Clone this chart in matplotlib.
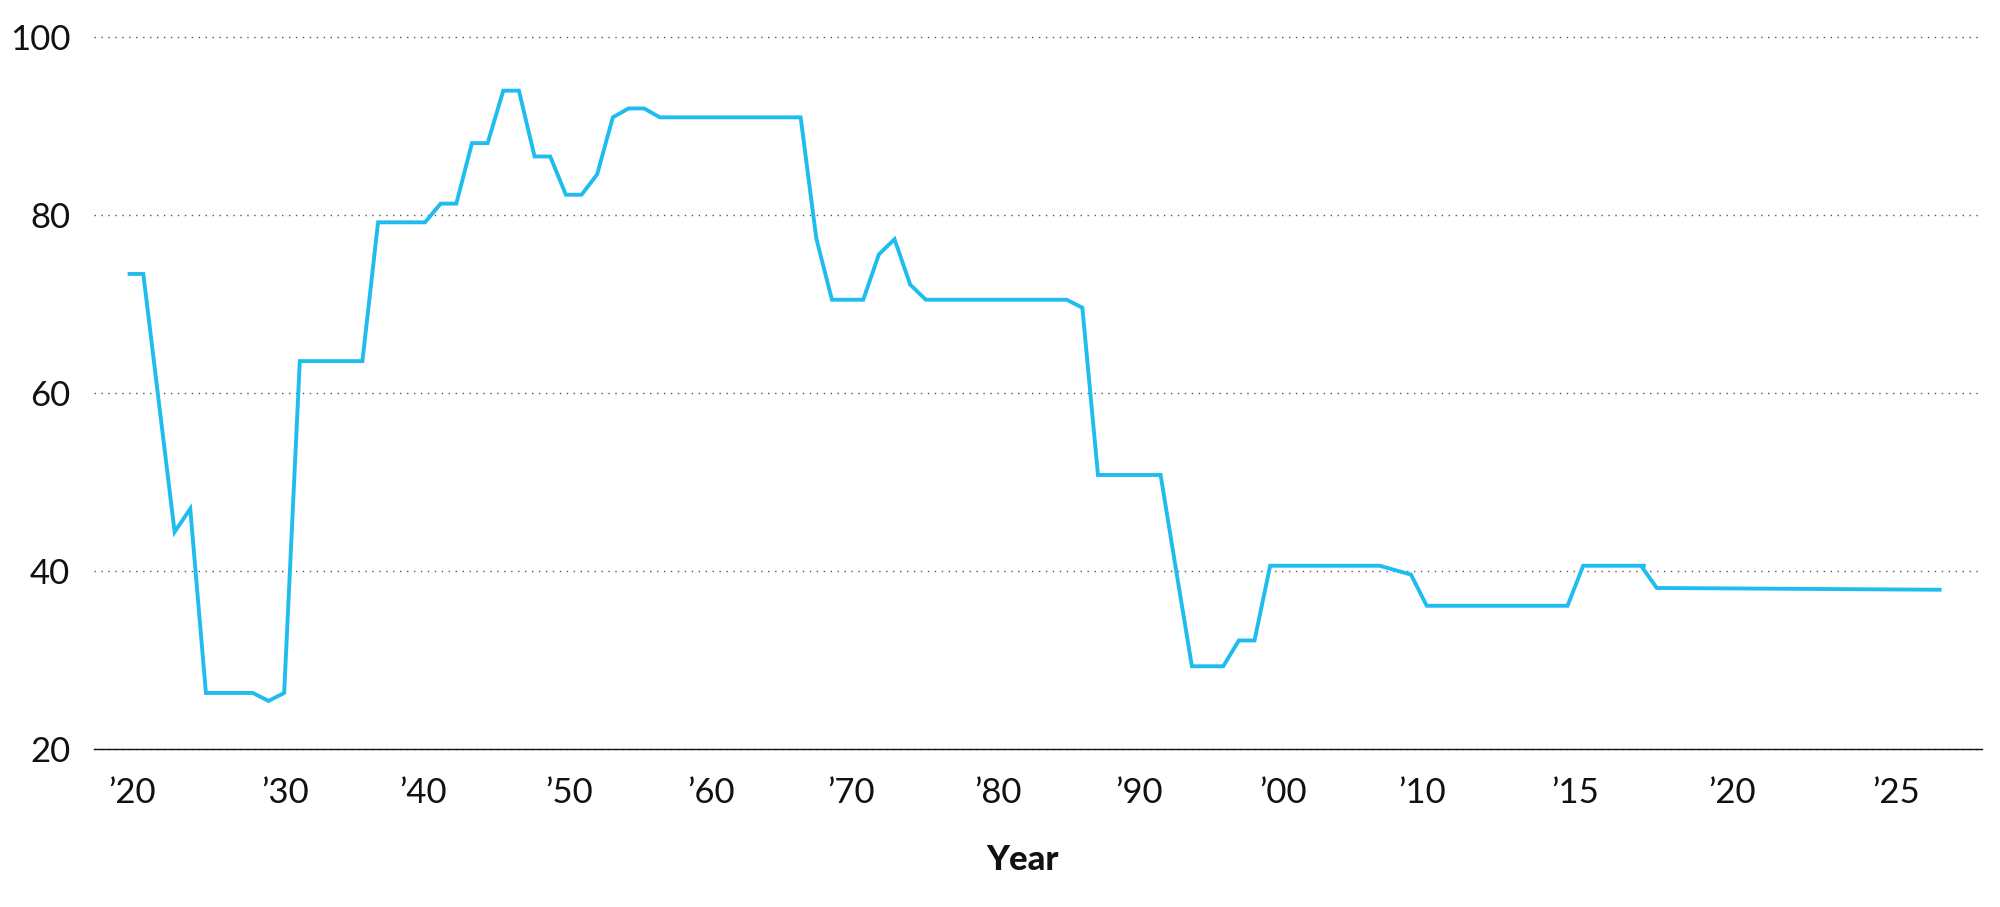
"""Line chart of a rate over the years, redrawn from a reference picture."""

import matplotlib
matplotlib.use('Agg')
import matplotlib.pyplot
import numpy


# One value per step along the x axis (steps are evenly spaced).
RATE = [
    73.4, 73.4, 58.9, 44.4, 47.0, 26.3, 26.3, 26.3, 26.3, 25.4,
    26.3, 63.6, 63.6, 63.6, 63.6, 63.6, 79.2, 79.2, 79.2, 79.2,
    81.3, 81.3, 88.1, 88.1, 94.0, 94.0, 86.6, 86.6, 82.3, 82.3,
    84.6, 91.0, 92.0, 92.0, 91.0, 91.0, 91.0, 91.0, 91.0, 91.0,
    91.0, 91.0, 91.0, 91.0, 77.4, 70.5, 70.5, 70.5, 75.6, 77.3,
    72.2, 70.5, 70.5, 70.5, 70.5, 70.5, 70.5, 70.5, 70.5, 70.5,
    70.5, 69.6, 50.8, 50.8, 50.8, 50.8, 50.8, 40.0, 29.3, 29.3,
    29.3, 32.2, 32.2, 40.6, 40.6, 40.6, 40.6, 40.6, 40.6, 40.6,
    40.6, 40.1, 39.6, 36.1, 36.1, 36.1, 36.1, 36.1, 36.1, 36.1,
    36.1, 36.1, 36.1, 40.6, 40.6, 40.6, 40.6, 40.6,
]

# Last stretch, drawn as its own segment.
TAIL_POS = [96.7, 97.7, 115.9]
TAIL_RATE = [40.6, 38.1, 37.9]

TICK_POS = [0.28, 10.05, 18.9, 28.2, 37.3, 46.2, 55.6,
            64.6, 73.8, 82.7, 92.5, 102.5, 113.0]
TICK_LABELS = ['\u201920', '\u201930', '\u201940', '\u201950', '\u201960',
               '\u201970', '\u201980', '\u201990', '\u201900', '\u201910',
               '\u201915', '\u201920', '\u201925']
Y_TICKS = [20, 40, 60, 80, 100]

LINE_COLOR = '#1fbdef'


def main():
    matplotlib.pyplot.rcParams['font.family'] = ['Lato', 'DejaVu Sans']

    figure = matplotlib.pyplot.figure(figsize=(20, 9.07), dpi=100)
    axes = figure.add_axes([0.047, 0.1742, 0.9439, 0.7847])

    steps = numpy.arange(len(RATE))
    line_style = dict(color=LINE_COLOR, lw=2.8, solid_capstyle='butt',
                      solid_joinstyle='miter', zorder=3)
    axes.plot(steps, RATE, **line_style)
    axes.plot(TAIL_POS, TAIL_RATE, **line_style)

    axes.set_xlim(-2.15, 118.47)
    axes.set_ylim(20, 100)
    axes.set_xticks(TICK_POS, TICK_LABELS)
    axes.set_yticks(Y_TICKS)

    axes.yaxis.grid(True, linestyle=(0, (1, 4)), color='#555555', lw=1.0)
    axes.xaxis.grid(False)
    for gl in axes.yaxis.get_gridlines():
        gl.set_clip_on(False)
    for side in ('left', 'right', 'top'):
        axes.spines[side].set_visible(False)
    axes.spines['bottom'].set_color('#111111')
    axes.spines['bottom'].set_linewidth(1.0)
    axes.spines['bottom'].set_zorder(4)

    axes.tick_params(axis='both', length=0, labelsize=25, colors='#111111')
    axes.tick_params(axis='x', pad=20)
    axes.tick_params(axis='y', pad=17)

    figure.text(1023 / 2000, (907 - 860) / 907, 'Year', ha='center',
                va='center', fontsize=25, fontweight='black', color='#111111')

    figure.savefig('out.png', dpi=100, facecolor='white')
    matplotlib.pyplot.close(figure)


if __name__ == '__main__':
    main()
